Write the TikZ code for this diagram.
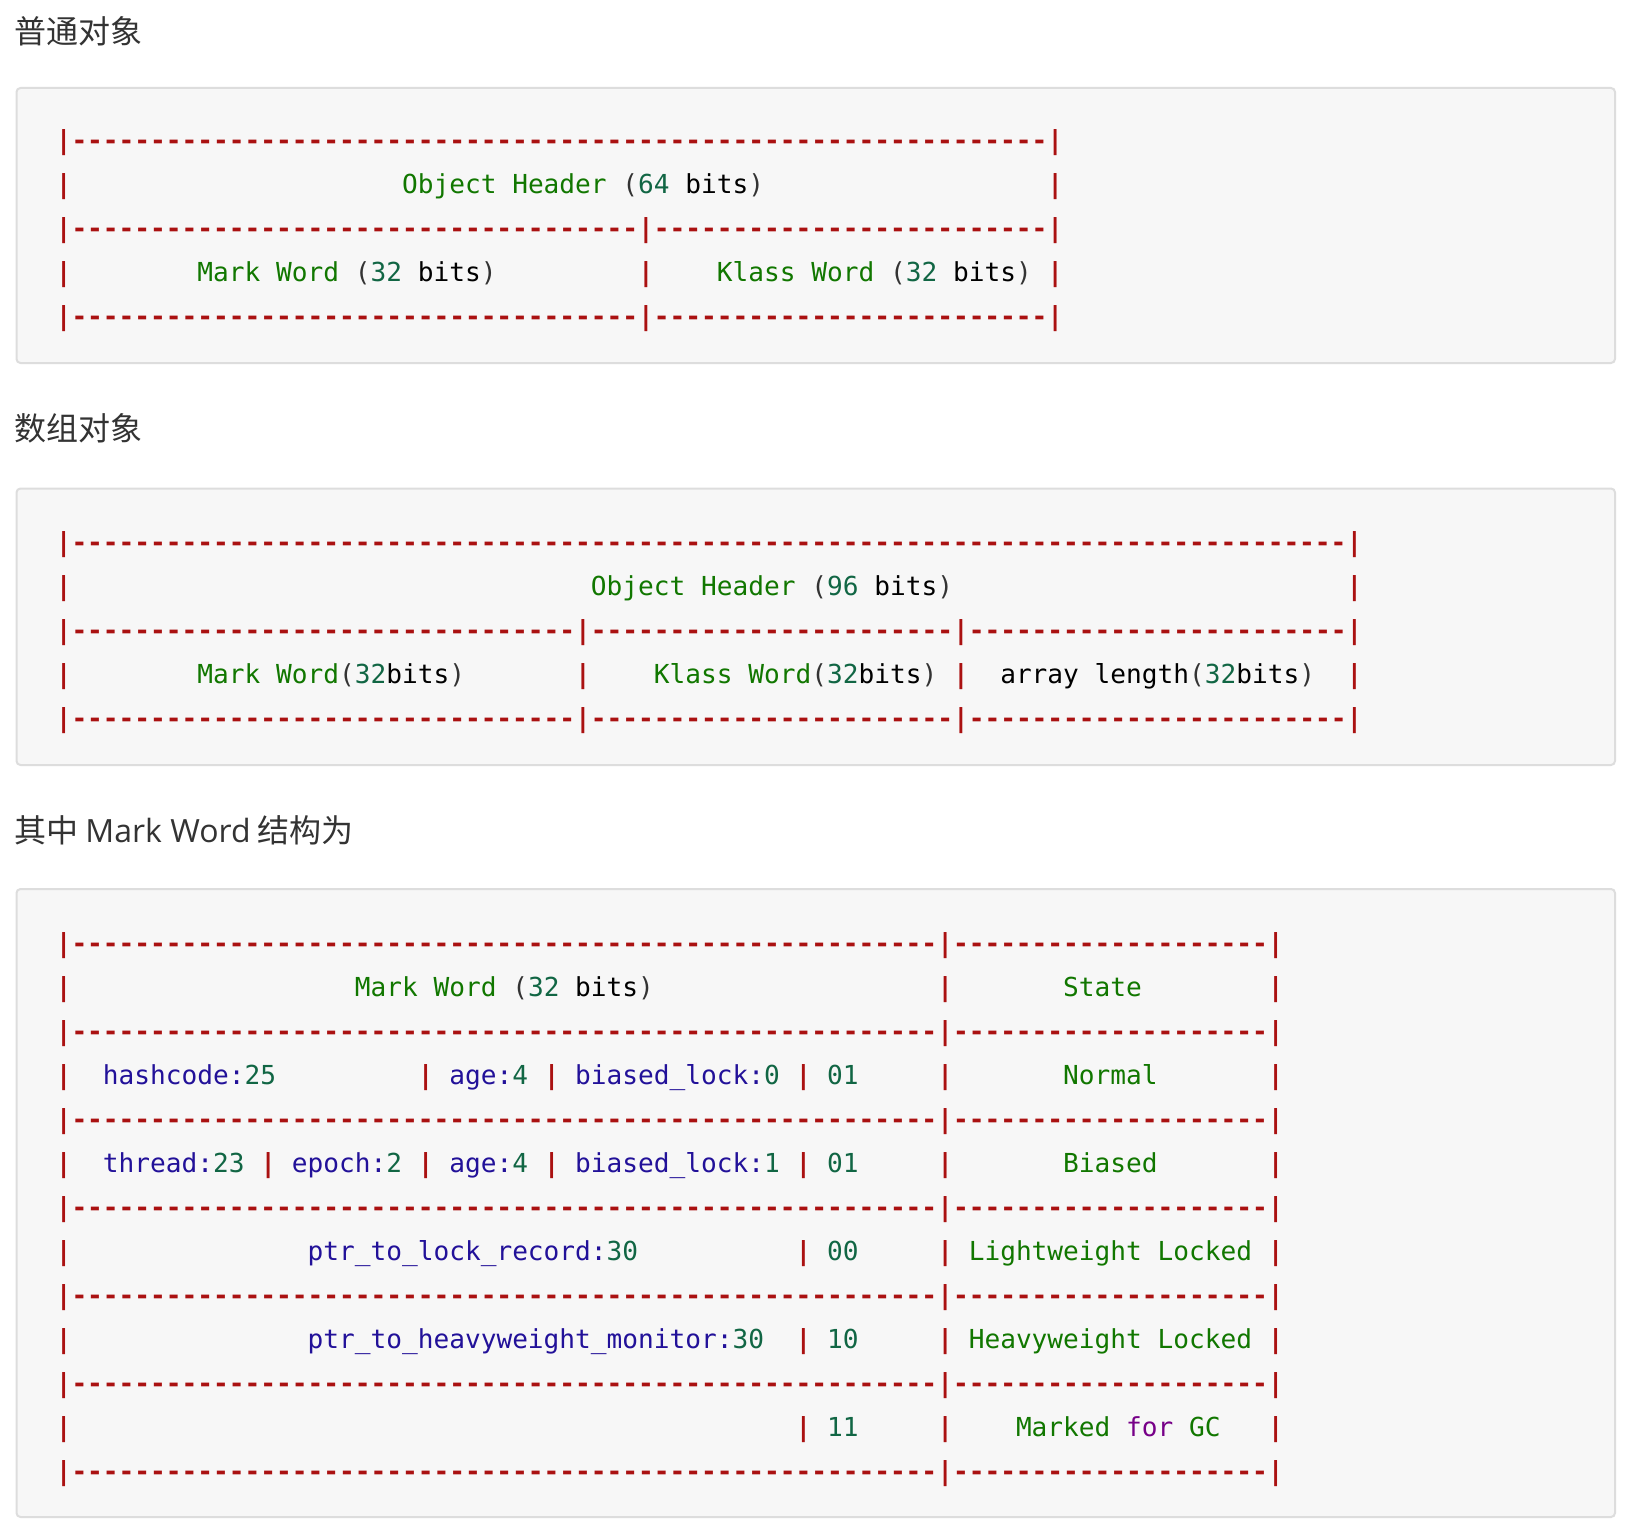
\documentclass[tikz,border=0pt]{standalone}
\usepackage{fontspec}
\newfontfamily\codefont{DejaVu Sans Mono}[Ligatures=TeXOff]
\newfontfamily\cjkfont{Noto Sans CJK SC}
\newfontfamily\headlatin{Open Sans}

\definecolor{cmred}{HTML}{AA1111}
\definecolor{cmgreen}{HTML}{117700}
\definecolor{cmteal}{HTML}{116644}
\definecolor{cmnavy}{HTML}{221199}
\definecolor{cmpurple}{HTML}{770088}
\definecolor{cmparen}{HTML}{333333}
\definecolor{headgray}{HTML}{333333}
\definecolor{boxfill}{HTML}{F7F7F7}
\definecolor{boxline}{HTML}{DDDDDD}

\newlength\cw
\AtBeginDocument{\settowidth\cw{\codefont\fontsize{19.61pt}{24pt}\selectfont 0}}

\newcommand\cmbar{\textcolor{cmred}{\bfseries|}}
\newcommand\cmdash[1]{\textcolor{cmred}{\bfseries\foreach\x in {1,...,#1}{-}}}
\newcommand\cmgap[1]{\hspace*{#1\cw}}
\newcommand\cmkey[1]{\textcolor{cmgreen}{#1}}
\newcommand\cmnum[1]{\textcolor{cmteal}{#1}}
\newcommand\cmatom[1]{\textcolor{cmnavy}{#1}}
\newcommand\cmfor[1]{\textcolor{cmpurple}{#1}}
\newcommand\cmlp{\textcolor{cmparen}{(}}
\newcommand\cmrp{\textcolor{cmparen}{)}}

\begin{document}
\begin{tikzpicture}[
  x=0.75pt, y=-0.75pt,
  heading/.style={font=\cjkfont\fontsize{24pt}{30pt}\selectfont, text=headgray,
                  anchor=west, inner sep=0pt},
  code/.style={font=\codefont\fontsize{19.61pt}{24pt}\selectfont,
               anchor=base west, inner sep=0pt},
  codebox/.style={draw=boxline, fill=boxfill, line width=1.5pt,
                  rounded corners=3pt},
]

\useasboundingbox (0,0) rectangle (1628,1530);
\fill[white] (0,0) rectangle (1628,1530);

%% ── 普通对象 ────────────────────────────────────────────────────────────────
\node[heading] (h1) at (14, 31) {普通对象};
\draw[codebox] (16.5, 88) rectangle (1615, 363);

\node[code] (a1) at (55.5, 149.5) {\cmbar\cmdash{62}\cmbar};
\node[code] (a2) at (55.5, 193.5)
  {\cmbar\cmgap{21}\cmkey{Object Header} \cmlp\cmnum{64} bits\cmrp\cmgap{18}\cmbar};
\node[code] (a3) at (55.5, 237.5) {\cmbar\cmdash{36}\cmbar\cmdash{25}\cmbar};
\node[code] (a4) at (55.5, 281.5)
  {\cmbar\cmgap{8}\cmkey{Mark Word} \cmlp\cmnum{32} bits\cmrp\cmgap{9}\cmbar%
   \cmgap{4}\cmkey{Klass Word} \cmlp\cmnum{32} bits\cmrp\cmgap{1}\cmbar};
\node[code] (a5) at (55.5, 325.5) {\cmbar\cmdash{36}\cmbar\cmdash{25}\cmbar};

%% ── 数组对象 ────────────────────────────────────────────────────────────────
\node[heading] (h2) at (14, 428) {数组对象};
\draw[codebox] (16.5, 488.5) rectangle (1615, 765);

\node[code] (b1) at (55.5, 551.5) {\cmbar\cmdash{81}\cmbar};
\node[code] (b2) at (55.5, 595.5)
  {\cmbar\cmgap{33}\cmkey{Object Header} \cmlp\cmnum{96} bits\cmrp\cmgap{25}\cmbar};
\node[code] (b3) at (55.5, 639.5)
  {\cmbar\cmdash{32}\cmbar\cmdash{23}\cmbar\cmdash{24}\cmbar};
\node[code] (b4) at (55.5, 683.5)
  {\cmbar\cmgap{8}\cmkey{Mark Word}\cmlp\cmnum{32}bits\cmrp\cmgap{7}\cmbar%
   \cmgap{4}\cmkey{Klass Word}\cmlp\cmnum{32}bits\cmrp\cmgap{1}\cmbar%
   \cmgap{2}array length\cmlp\cmnum{32}bits\cmrp\cmgap{2}\cmbar};
\node[code] (b5) at (55.5, 727.5)
  {\cmbar\cmdash{32}\cmbar\cmdash{23}\cmbar\cmdash{24}\cmbar};

%% ── Mark Word 结构 ──────────────────────────────────────────────────────────
\node[heading] (h3) at (14, 830) {其中 {\headlatin Mark Word} 结构为};
\draw[codebox] (16.5, 889) rectangle (1615, 1517);

\node[code] (c1) at (55.5, 952.5) {\cmbar\cmdash{55}\cmbar\cmdash{20}\cmbar};
\node[code] (c2) at (55.5, 996.5)
  {\cmbar\cmgap{18}\cmkey{Mark Word} \cmlp\cmnum{32} bits\cmrp\cmgap{18}\cmbar%
   \cmgap{7}\cmkey{State}\cmgap{8}\cmbar};
\node[code] (c3) at (55.5, 1040.5) {\cmbar\cmdash{55}\cmbar\cmdash{20}\cmbar};

%% normal
\node[code] (c4) at (55.5, 1084.5)
  {\cmbar\cmgap{2}\cmatom{hashcode:}\cmnum{25}\cmgap{9}\cmbar%
   \cmgap{1}\cmatom{age:}\cmnum{4}\cmgap{1}\cmbar%
   \cmgap{1}\cmatom{biased\_lock:}\cmnum{0}\cmgap{1}\cmbar%
   \cmgap{1}\cmnum{01}\cmgap{5}\cmbar\cmgap{7}\cmkey{Normal}\cmgap{7}\cmbar};
\node[code] (c5) at (55.5, 1128.5) {\cmbar\cmdash{55}\cmbar\cmdash{20}\cmbar};

%% biased
\node[code] (c6) at (55.5, 1172.5)
  {\cmbar\cmgap{2}\cmatom{thread:}\cmnum{23}\cmgap{1}\cmbar%
   \cmgap{1}\cmatom{epoch:}\cmnum{2}\cmgap{1}\cmbar%
   \cmgap{1}\cmatom{age:}\cmnum{4}\cmgap{1}\cmbar%
   \cmgap{1}\cmatom{biased\_lock:}\cmnum{1}\cmgap{1}\cmbar%
   \cmgap{1}\cmnum{01}\cmgap{5}\cmbar\cmgap{7}\cmkey{Biased}\cmgap{7}\cmbar};
\node[code] (c7) at (55.5, 1216.5) {\cmbar\cmdash{55}\cmbar\cmdash{20}\cmbar};

%% lightweight
\node[code] (c8) at (55.5, 1260.5)
  {\cmbar\cmgap{15}\cmatom{ptr\_to\_lock\_record:}\cmnum{30}\cmgap{10}\cmbar%
   \cmgap{1}\cmnum{00}\cmgap{5}\cmbar\cmgap{1}\cmkey{Lightweight Locked}\cmgap{1}\cmbar};
\node[code] (c9) at (55.5, 1304.5) {\cmbar\cmdash{55}\cmbar\cmdash{20}\cmbar};

%% heavyweight
\node[code] (c10) at (55.5, 1348.5)
  {\cmbar\cmgap{15}\cmatom{ptr\_to\_heavyweight\_monitor:}\cmnum{30}\cmgap{2}\cmbar%
   \cmgap{1}\cmnum{10}\cmgap{5}\cmbar\cmgap{1}\cmkey{Heavyweight Locked}\cmgap{1}\cmbar};
\node[code] (c11) at (55.5, 1392.5) {\cmbar\cmdash{55}\cmbar\cmdash{20}\cmbar};

%% gc
\node[code] (c12) at (55.5, 1436.5)
  {\cmbar\cmgap{46}\cmbar\cmgap{1}\cmnum{11}\cmgap{5}\cmbar%
   \cmgap{4}\cmkey{Marked} \cmfor{for} \cmkey{GC}\cmgap{3}\cmbar};
\node[code] (c13) at (55.5, 1480.5) {\cmbar\cmdash{55}\cmbar\cmdash{20}\cmbar};

\end{tikzpicture}
\end{document}
